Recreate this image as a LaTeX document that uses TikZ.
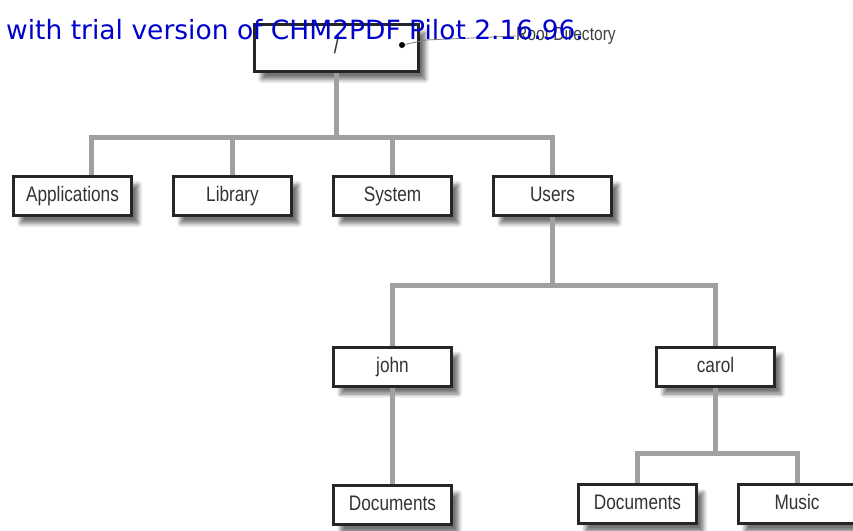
\documentclass[tikz,border=0pt]{standalone}
\usepackage{fontspec}
\setmainfont[FakeStretch=0.82]{Liberation Sans}
\newfontfamily\markfont{DejaVu Sans}
\usetikzlibrary{shadows.blur}
\definecolor{linegray}{RGB}{160,160,160}
\definecolor{markblue}{RGB}{0,0,205}

\begin{document}
\begin{tikzpicture}[x=1pt,y=-1pt]

\tikzstyle{folder}=[draw=black!85, line width=3pt, fill=white, text=black!80, minimum width=118pt, minimum height=39pt, inner sep=0pt, text height=15pt, text depth=4pt, font=\fontsize{21}{25}\selectfont, blur shadow={shadow xshift=7pt, shadow yshift=-8pt, shadow blur steps=6, shadow blur radius=4pt, shadow opacity=55}]
\tikzstyle{edge}=[line width=5pt, linegray]

\useasboundingbox (0,0) rectangle (853,530);

\node[folder, minimum width=164pt, minimum height=47pt, font=\fontsize{24}{28}\selectfont] (root) at (336.5,48) {/};
\node[circle, fill=black, inner sep=0pt, minimum size=6pt] (root_dot) at (402,45) {};
\node[anchor=west, inner sep=0pt, text=black!75, font=\fontsize{19}{21}\selectfont] (root_label) at (516,36) {Root Directory};
\coordinate (leader_bend) at (426,40);
\draw[black!50, line width=0.8pt] (root_dot) -- (leader_bend) -- (root_label.west);

\node[folder] (applications) at (72.5,196) {Applications};
\node[folder] (library) at (232.5,196) {Library};
\node[folder] (system) at (392.5,196) {System};
\node[folder] (users) at (552.5,196) {Users};
\node[folder] (john) at (392.5,366.5) {john};
\node[folder] (carol) at (715.5,366.5) {carol};
\node[folder] (docs_john) at (392.5,505) {Documents};
\node[folder] (docs_carol) at (637.5,504) {Documents};
\node[folder] (music) at (797,504) {Music};

\coordinate (top_bus) at (0,137);
\coordinate (users_bus) at (0,285);
\coordinate (carol_bus) at (0,453);

\draw[edge] (root) -- (root |- top_bus) -| ([xshift=18.5pt]applications.north);
\draw[edge] (root |- top_bus) -| (library);
\draw[edge] (root |- top_bus) -| (system);
\draw[edge] (root |- top_bus) -| (users);
\draw[edge] (users) -- (users |- users_bus) -| (john);
\draw[edge] (users |- users_bus) -| (carol);
\draw[edge] (john) -- (docs_john);
\draw[edge] (carol) -- (carol |- carol_bus) -| (docs_carol);
\draw[edge] (carol |- carol_bus) -| (music);

\node[anchor=base west, inner sep=0pt, text=markblue, font=\markfont\fontsize{26.5}{30}\selectfont] (watermark) at (6,39) {with trial version of CHM2PDF Pilot 2.16.96.};

\end{tikzpicture}
\end{document}
